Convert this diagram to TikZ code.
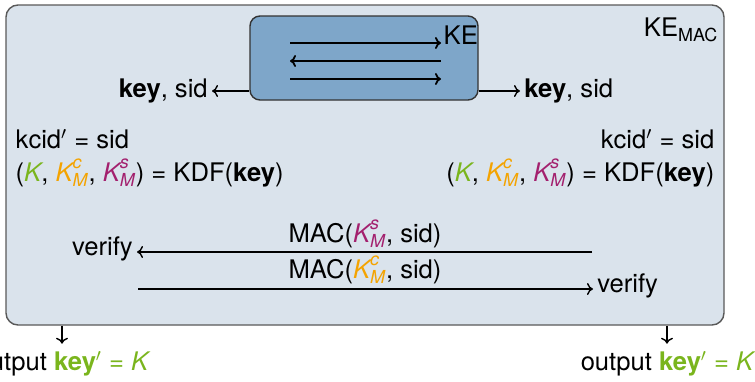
\documentclass[tikz,border=0pt]{standalone}
\usepackage{amsmath}
\usepackage{fontspec}
\setmainfont{TeX Gyre Heros}
\usepackage{xcolor}
\usetikzlibrary{arrows.meta}
\definecolor{keygreen}{HTML}{7AB51D}
\definecolor{keyorange}{HTML}{F4A300}
\definecolor{keypurple}{HTML}{A3206E}
\definecolor{macfill}{HTML}{DAE3EC}
\definecolor{kefill}{HTML}{7EA6C9}
\newcommand{\Kvar}{\text{\itshape K}}
\newcommand{\Kmac}[1]{\Kvar^{\text{\itshape #1}}_{\text{\itshape M}}}
\newcommand{\kdfline}{(\textcolor{keygreen}{$\Kvar$}, \textcolor{keyorange}{$\Kmac{c}$}, \textcolor{keypurple}{$\Kmac{s}$}) = KDF(\textbf{key})}
\newcommand{\outline}{output \textcolor{keygreen}{\textbf{key}$'$ = $\Kvar$}}

\begin{document}
\begin{tikzpicture}[x=0.5pt, y=-0.5pt, font=\fontsize{12.8}{15}\selectfont,
    line width=0.7pt, >={To[length=3pt,width=6pt]},
    outer/.style={draw=black!65, fill=macfill, rounded corners=6pt, inner sep=0pt},
    kebox/.style={draw=black!80, fill=kefill, rounded corners=5pt, inner sep=0pt},
    msg/.style={->, line width=0.9pt},
    lbl/.style={inner sep=1pt},
    albl/.style={inner sep=1.8pt}]
  \useasboundingbox (0,0) rectangle (755,381);

  % boxes
  \node[outer, minimum width=359pt, minimum height=160pt] (kemac) at (365,165) {};
  \node[kebox, minimum width=114pt, minimum height=42pt] (ke) at (364,58) {};
  \node[lbl, anchor=north east] (kemaclabel) at (721,15) {KE\textsubscript{MAC}};

  % inner protocol
  \coordinate (ia) at (290,43);
  \coordinate (ib) at (290,61);
  \coordinate (ic) at (290,79);
  \node[lbl, anchor=west] (kelabel) at (441,35) {KE};
  \draw[msg] (ia) -- (ia -| kelabel.west);
  \draw[msg, <-] (ib) -- (ib -| kelabel.west);
  \draw[msg] (ic) -- (ic -| kelabel.west);

  % session keys
  \node[albl, anchor=east] (keyl) at (212,91) {\textbf{key}, sid};
  \node[albl, anchor=west] (keyr) at (520,91) {\textbf{key}, sid};
  \draw[->] (keyl -| ke.west) -- (keyl.east);
  \draw[->] (keyr -| ke.east) -- (keyr.west);

  % derivation
  \node[lbl, anchor=west] (kcidl) at (13,139) {kcid$'$ = sid};
  \node[lbl, anchor=east] (kcidr) at (717,139) {kcid$'$ = sid};
  \node[lbl, anchor=west] (kdfl) at (13,173) {\kdfline};
  \node[lbl, anchor=east] (kdfr) at (717,173) {\kdfline};

  % key confirmation
  \coordinate (srv) at (592,252);
  \coordinate (cli) at (138,289);
  \node[albl, anchor=east] (verifyl) at (137,249) {verify};
  \node[albl, anchor=west] (verifyr) at (593,286) {verify};
  \node[lbl] (macs) at (365,234) {MAC(\textcolor{keypurple}{$\Kmac{s}$}, sid)};
  \node[lbl] (macc) at (365,270) {MAC(\textcolor{keyorange}{$\Kmac{c}$}, sid)};
  \path[->]
    (srv) edge (srv -| verifyl.east)
    (cli) edge (cli -| verifyr.west);

  % outputs
  \node[lbl, anchor=north] (outl) at (62,349) {\outline};
  \node[lbl, anchor=north] (outr) at (667,349) {\outline};
  \draw[->] (kemac.south -| outl) -- ++(0,18);
  \draw[->] (kemac.south -| outr) -- ++(0,18);
\end{tikzpicture}
\end{document}
